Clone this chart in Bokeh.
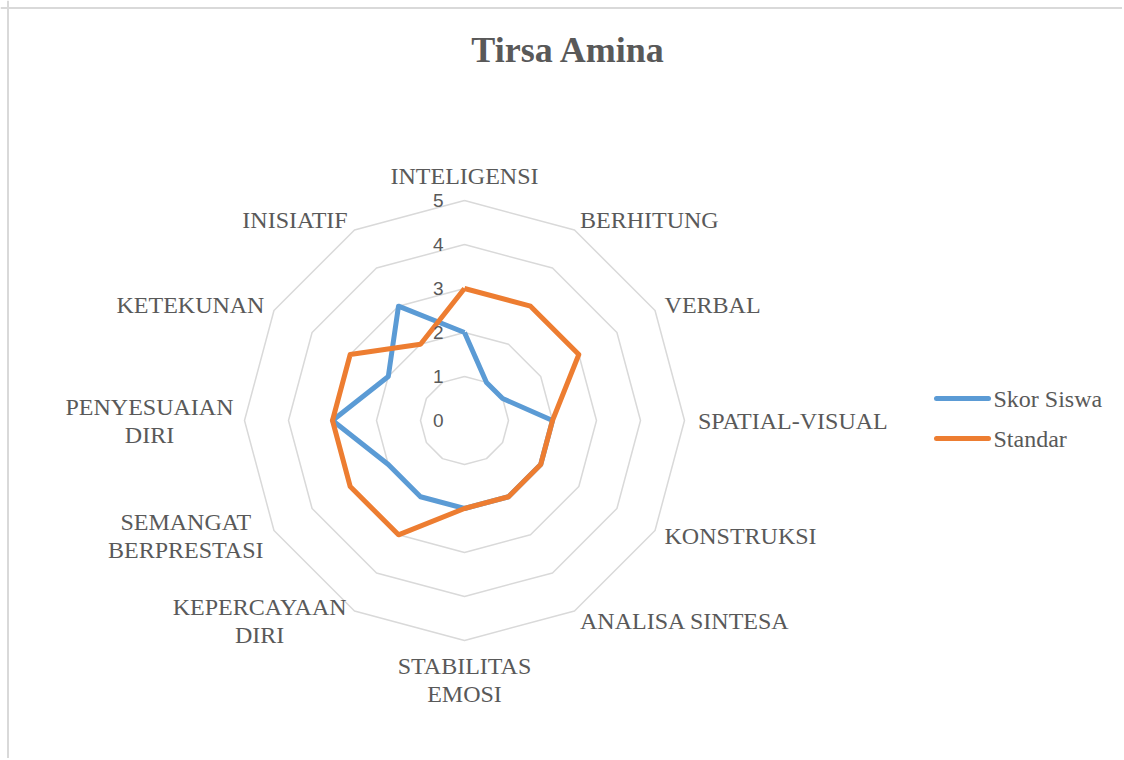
import math
from bokeh.plotting import figure
from bokeh.models import Range1d, Span
from bokeh.core.properties import value
from bokeh.embed import file_html
from bokeh.resources import INLINE

# ---------------- data ----------------
title_text = "Tirsa Amina"
categories = ["INTELIGENSI", "BERHITUNG", "VERBAL", "SPATIAL-VISUAL", "KONSTRUKSI",
              "ANALISA SINTESA", "STABILITAS\nEMOSI", "KEPERCAYAAN\nDIRI",
              "SEMANGAT\nBERPRESTASI", "PENYESUAIAN\nDIRI", "KETEKUNAN", "INISIATIF"]
skor_siswa = [2, 1, 1, 2, 2, 2, 2, 2, 2, 3, 2, 3]
standar = [3, 3, 3, 2, 2, 2, 2, 3, 3, 3, 3, 2]
tick_values = [0, 1, 2, 3, 4, 5]
series_names = ["Skor Siswa", "Standar"]
series_colors = ["#5B9BD5", "#ED7D31"]

# ---------------- layout ----------------
W, H = 1122, 758
S = 44.0            # px per unit
CX, CY = 464, 420   # px of radar centre
TXT = "#595959"
SERIF = value("Liberation Serif")

def dx(px):
    return (px - CX) / S

def dy(py):
    return (CY - py) / S

p = figure(width=W, height=H, output_backend="svg", toolbar_location=None,
           x_range=Range1d(dx(0), dx(W)), y_range=Range1d(dy(H), dy(0)),
           min_border=0, min_border_left=0, min_border_right=0,
           min_border_top=0, min_border_bottom=0)
p.axis.visible = False
p.grid.visible = False
p.outline_line_color = None
p.background_fill_color = "white"
p.border_fill_color = "white"

# chart border (left + top visible)
p.add_layout(Span(location=dx(7.5), dimension="height", line_color="#D9D9D9", line_width=2))
p.add_layout(Span(location=dy(7.5), dimension="width", line_color="#D9D9D9", line_width=2))

n = len(categories)
angles = [2 * math.pi * i / n for i in range(n)]

def polar(vals):
    xs = [v * math.sin(a) for v, a in zip(vals, angles)]
    ys = [v * math.cos(a) for v, a in zip(vals, angles)]
    return xs + xs[:1], ys + ys[:1]

# grid rings
for t in tick_values[1:]:
    xs, ys = polar([t] * n)
    p.line(xs, ys, line_color="#D9D9D9", line_width=1.5)

# series
for vals, col in zip([skor_siswa, standar], series_colors):
    xs, ys = polar(vals)
    p.line(xs, ys, line_color=col, line_width=5, line_join="round")

# tick labels
p.text(x=[dx(443)] * len(tick_values), y=tick_values,
       text=[str(t) for t in tick_values], text_align="right", text_baseline="middle",
       text_font=value("Liberation Sans"), text_font_size="19px", text_color=TXT)

# category labels
CW = {'A': .722, 'B': .667, 'C': .667, 'D': .722, 'E': .611, 'F': .556, 'G': .722, 'H': .722,
      'I': .333, 'J': .389, 'K': .722, 'L': .611, 'M': .889, 'N': .722, 'O': .722, 'P': .556,
      'Q': .722, 'R': .667, 'S': .556, 'T': .611, 'U': .722, 'V': .722, 'W': .944, 'X': .722,
      'Y': .722, 'Z': .611, ' ': .25, '-': .333}
FS = 24
LH = 28 / S
RL = 5.25
for cat, a in zip(categories, angles):
    lines = cat.split("\n")
    wpx = max(sum(CW.get(c, .6) for c in ln) for ln in lines) * FS
    w = wpx / S
    ax, ay = RL * math.sin(a), RL * math.cos(a)
    if abs(math.sin(a)) < 0.01:
        cxl = ax
        if math.cos(a) > 0:
            top = ay + LH * len(lines)   # block above anchor
        else:
            top = ay
    else:
        cxl = ax + w / 2 if math.sin(a) > 0 else ax - w / 2
        top = ay + LH * len(lines) / 2
    for k, ln in enumerate(lines):
        yc = top - LH * (k + 0.5)
        p.text(x=[cxl], y=[yc], text=[ln], text_align="center", text_baseline="middle",
               text_font=SERIF, text_font_size=f"{FS}px", text_color=TXT)

# title
p.text(x=[dx(568)], y=[dy(49)], text=[title_text], text_align="center", text_baseline="middle",
       text_font=SERIF, text_font_size="36px", text_font_style="bold", text_color=TXT)

# legend
for i, (name, col) in enumerate(zip(series_names, series_colors)):
    yy = dy(398 + 40 * i)
    p.line([dx(936), dx(988)], [yy, yy], line_color=col, line_width=5, line_cap="round")
    p.text(x=[dx(993)], y=[yy], text=[name], text_align="left", text_baseline="middle",
           text_font=SERIF, text_font_size=f"{FS}px", text_color=TXT)

open("out.html", "w").write(file_html(p, INLINE))
